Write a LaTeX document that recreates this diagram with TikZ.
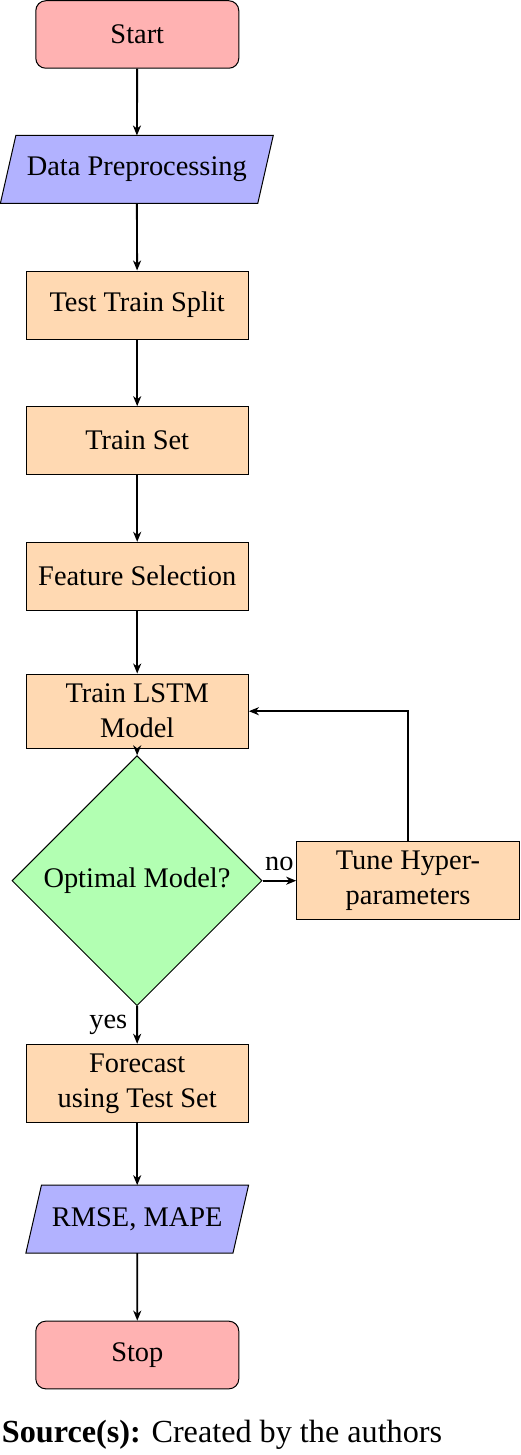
\documentclass[tikz,border=0pt]{standalone}
\usepackage{fontspec}
\setmainfont{Liberation Serif}
\usetikzlibrary{shapes.geometric,arrows.meta}
\begin{document}
\begin{tikzpicture}[x=1pt,y=-1pt,
  every node/.style={font=\fontsize{28.4}{35}\selectfont},
  base/.style={draw=black, line width=1pt, inner sep=0pt, align=center},
  startstop/.style={base, rectangle, rounded corners=10pt, minimum width=203pt, minimum height=67.5pt, fill=red!30},
  iobox/.style={inner sep=0pt, align=center, minimum height=67.6pt},
  process/.style={base, rectangle, minimum width=222.3pt, fill=orange!30},
  decision/.style={base, diamond, aspect=1, minimum size=250pt, fill=green!30},
  arrow/.style={line width=1.9pt, -{Stealth[length=10pt,width=8pt,inset=3pt]}},
  lbl/.style={font=\fontsize{28.4}{35}\selectfont, inner sep=9pt}
]
\useasboundingbox (0,0) rectangle (520,1455);

\node[startstop] (start) at (137.3,34.5) {Start};

\node[iobox, minimum width=257pt] (data) at (136.8,169.5) {Data Preprocessing};
\filldraw[fill=blue!30, draw=black, line width=1pt]
  ([xshift=7.75pt]data.north west) -- ([xshift=7.75pt]data.north east)
  -- ([xshift=-7.75pt]data.south east) -- ([xshift=-7.75pt]data.south west) -- cycle;
\node[iobox, minimum width=257pt] at (data) {Data Preprocessing};

\node[process, minimum height=68pt] (split) at (137.2,305) {Test Train Split};
\node[process, minimum height=67.6pt] (trainset) at (137.2,440.5) {Train Set};
\node[process, minimum height=67.7pt] (feat) at (137.2,576.2) {Feature Selection};
\node[process, minimum height=74.3pt] (lstm) at (137.2,711.2) {Train LSTM\\Model};
\node[decision] (opt) at (137,880.7) {Optimal Model?};
\node[process, minimum width=222.6pt, minimum height=78pt] (tune) at (408,880.7) {Tune Hyper-\\parameters};
\node[process, minimum height=78.4pt] (fore) at (137.2,1083.5) {Forecast\\using Test Set};

\node[iobox, minimum width=206.7pt] (err) at (137.2,1219.2) {RMSE, MAPE};
\filldraw[fill=blue!30, draw=black, line width=1pt]
  ([xshift=7.8pt]err.north west) -- ([xshift=7.8pt]err.north east)
  -- ([xshift=-7.8pt]err.south east) -- ([xshift=-7.8pt]err.south west) -- cycle;
\node[iobox, minimum width=206.7pt] at (err) {RMSE, MAPE};

\node[startstop, minimum height=67.7pt] (stop) at (137.3,1355) {Stop};

\draw[arrow] (start) -- (data);
\draw[arrow] (data) -- (split);
\draw[arrow] (split) -- (trainset);
\draw[arrow] (trainset) -- (feat);
\draw[arrow] (feat) -- (lstm);
\draw[arrow] (lstm) -- (opt);
\draw[arrow] (opt) -- node[lbl, above] {no} (tune);
\draw[arrow] (tune.north) |- (lstm.east);
\draw[arrow] (opt) -- node[lbl, left] {yes} (fore);
\draw[arrow] (fore) -- (err);
\draw[arrow] (err) -- (stop);

\node[anchor=base west, inner sep=0pt, font=\fontsize{32.2}{38}\selectfont] (cap) at (1.7,1442)
  {\textbf{Source(s):} Created by the authors};
\end{tikzpicture}
\end{document}
